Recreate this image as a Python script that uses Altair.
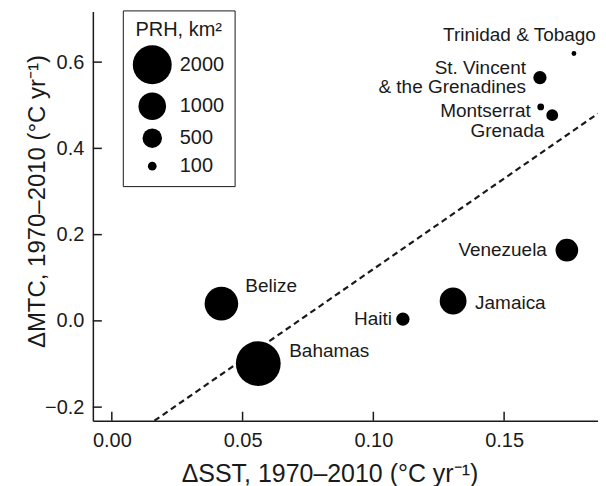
import altair as alt
import pandas as pd

# ---- data ----
countries = ["Bahamas", "Belize", "Haiti", "Jamaica", "Venezuela",
             "Grenada", "Montserrat", "St. Vincent", "Trinidad & Tobago"]
labels = ["Bahamas", "Belize", "Haiti", "Jamaica", "Venezuela",
          "Grenada", "Montserrat", "St. Vincent\n& the Grenadines", "Trinidad & Tobago"]
sst = [0.0560, 0.0419, 0.1113, 0.1305, 0.1740, 0.1684, 0.1640, 0.1637, 0.1767]
mtc = [-0.099, 0.040, 0.004, 0.046, 0.164, 0.477, 0.496, 0.564, 0.620]
prh = [2650, 1490, 232, 950, 680, 185, 60, 232, 30]

fit_sst = [0.0163, 0.1859]
fit_mtc = [-0.2315, 0.4808]

x_ticks = [0.0, 0.05, 0.10, 0.15]
y_ticks = [-0.2, 0.0, 0.2, 0.4, 0.6]
legend_values = [2000, 1000, 500, 100]

df = pd.DataFrame({"country": countries, "label": labels, "sst": sst, "mtc": mtc, "prh": prh})
fit = pd.DataFrame({"sst": fit_sst, "mtc": fit_mtc})
xt = pd.DataFrame({"v": x_ticks})
yt = pd.DataFrame({"v": y_ticks})

# ---- styles ----
FONT = "Liberation Sans"
INK = "#1a1a1a"
W, H = 506, 410
XDOM = [-0.00725, 0.1859]
YDOM = [-0.2315, 0.7176]

label_style = {
    "Trinidad & Tobago": ("right", 22, -19),
    "St. Vincent": ("right", -14, -9.5),
    "Montserrat": ("right", -10, 4),
    "Grenada": ("right", -8, 16),
    "Venezuela": ("right", -20, 0),
    "Jamaica": ("left", 22, 2),
    "Haiti": ("right", -11, 0),
    "Belize": ("left", 24, -18),
    "Bahamas": ("left", 31, -13),
}

xscale = alt.Scale(domain=XDOM, nice=False, zero=False)
yscale = alt.Scale(domain=YDOM, nice=False, zero=False)

x_enc = alt.X("sst:Q", scale=xscale, axis=alt.Axis(
    values=x_ticks, format=".2f", title="ΔSST, 1970–2010 (°C yr⁻¹)",
    ticks=False, grid=False, labelPadding=10, labelFontSize=20,
    titleFontSize=25, titleFontWeight="normal", titleX=237, titleY=61,
    titleBaseline="alphabetic", domainColor=INK, domainWidth=1.5,
    labelColor=INK, titleColor=INK, labelFont=FONT, titleFont=FONT))
y_enc = alt.Y("mtc:Q", scale=yscale, axis=alt.Axis(
    values=y_ticks, format=".1f", title="ΔMTC, 1970–2010 (°C yr⁻¹)",
    ticks=False, grid=False, labelPadding=9, labelFontSize=20,
    titleFontSize=24, titleFontWeight="normal", titleX=-48, titleY=190,
    titleBaseline="alphabetic", domainColor=INK, domainWidth=1.5,
    labelColor=INK, titleColor=INK, labelFont=FONT, titleFont=FONT))

points = alt.Chart(df).mark_circle(color="black", opacity=1).encode(
    x=x_enc, y=y_enc,
    size=alt.Size("prh:Q", scale=alt.Scale(domain=[0, 2000], range=[0, 1520]),
                  legend=alt.Legend(
                      title="PRH, km²", values=legend_values, format="d",
                      orient="none", legendX=30, legendY=-1, strokeColor=INK,
                      padding=10, titleFontSize=20, titleFontWeight="normal",
                      titleFont=FONT, titleColor=INK, titleAnchor="middle",
                      titlePadding=5, labelFontSize=20, labelFont=FONT,
                      labelColor=INK, labelOffset=8, rowPadding=8,
                      symbolType="circle", symbolFillColor="black",
                      symbolStrokeWidth=0, symbolOpacity=1)),
)

fit_line = alt.Chart(fit).mark_line(color=INK, strokeDash=[6, 4], strokeWidth=2.2).encode(
    x=alt.X("sst:Q", scale=xscale), y=alt.Y("mtc:Q", scale=yscale))

xticks = alt.Chart(xt).mark_rule(color=INK, strokeWidth=1.5).encode(
    x=alt.X("v:Q", scale=xscale), y=alt.value(H), y2=alt.value(H - 9))
yticks = alt.Chart(yt).mark_rule(color=INK, strokeWidth=1.5).encode(
    y=alt.Y("v:Q", scale=yscale), x=alt.value(0), x2=alt.value(9))

text_layers = []
for name, (align, dx, dy) in label_style.items():
    text_layers.append(
        alt.Chart(df).transform_filter(alt.datum.country == name)
        .mark_text(align=align, baseline="middle", dx=dx, dy=dy, fontSize=19,
                   font=FONT, color=INK, lineBreak="\n", lineHeight=19)
        .encode(x=alt.X("sst:Q", scale=xscale), y=alt.Y("mtc:Q", scale=yscale),
                text="label:N"))

chart = alt.layer(fit_line, xticks, yticks, points, *text_layers).properties(
    width=W, height=H,
    autosize=alt.AutoSizeParams(type="none"),
    padding={"left": 85, "top": 3, "right": 0, "bottom": 75},
).configure_view(stroke=None)

chart.save("out.html", embed_options={"renderer": "svg", "actions": False})
